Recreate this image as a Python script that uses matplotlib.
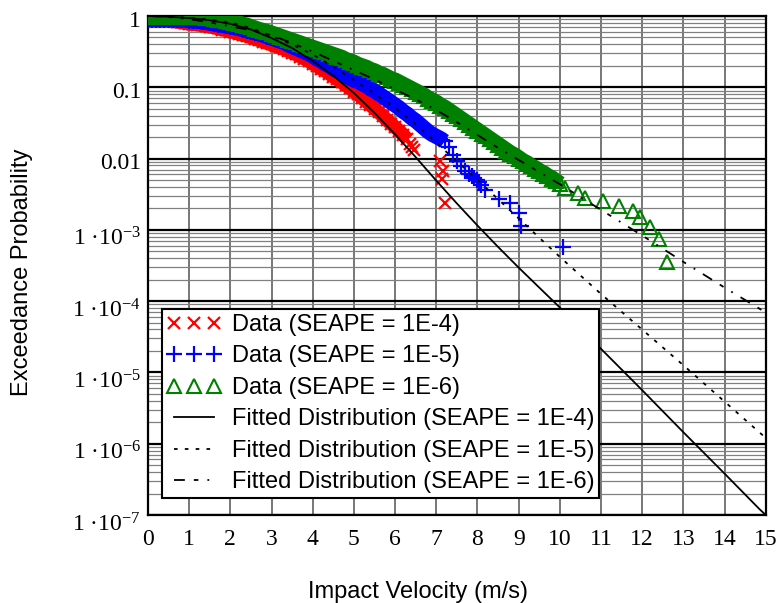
import matplotlib
matplotlib.use('Agg')
import matplotlib.pyplot as plt
import matplotlib.transforms as mtransforms
from matplotlib.ticker import LogLocator, NullFormatter
import numpy as np

plt.rcParams['font.family'] = 'Liberation Serif'
plt.rcParams['mathtext.fontset'] = 'custom'
plt.rcParams['mathtext.rm'] = 'Liberation Serif'
plt.rcParams['mathtext.it'] = 'Liberation Serif:italic'
plt.rcParams['mathtext.bf'] = 'Liberation Serif:bold'

# Data (SEAPE = 1E-4): velocity and log10 exceedance probability
red_v = [0.0, 0.1, 0.2, 0.3, 0.4, 0.5, 0.6, 0.7, 0.8, 0.9,
         1.0, 1.1, 1.2, 1.3, 1.4, 1.5, 1.6, 1.7, 1.8, 1.9,
         2.0, 2.1, 2.2, 2.3, 2.4, 2.5, 2.6, 2.7, 2.8, 2.9,
         3.0, 3.1, 3.2, 3.3, 3.4, 3.5, 3.6, 3.7, 3.8, 3.9,
         4.0, 4.1, 4.2, 4.3, 4.4, 4.5, 4.6, 4.7, 4.8, 4.9,
         5.0, 5.1, 5.2, 5.3, 5.4, 5.5, 5.6, 5.7, 5.8, 5.9,
         6.0, 6.1, 6.2, 6.3]
red_logp = [-0.06, -0.06, -0.06, -0.065, -0.065, -0.07, -0.075, -0.08, -0.09, -0.10,
            -0.11, -0.115, -0.12, -0.13, -0.14, -0.15, -0.16, -0.175, -0.19, -0.20,
            -0.22, -0.23, -0.25, -0.265, -0.28, -0.30, -0.32, -0.34, -0.36, -0.38,
            -0.40, -0.42, -0.44, -0.465, -0.49, -0.515, -0.54, -0.57, -0.60, -0.63,
            -0.67, -0.70, -0.74, -0.77, -0.81, -0.85, -0.89, -0.93, -0.97, -1.01,
            -1.06, -1.10, -1.15, -1.20, -1.25, -1.30, -1.35, -1.40, -1.46, -1.51,
            -1.56, -1.61, -1.67, -1.73]
red_tail_v = [6.36, 6.42, 6.46, 7.09, 7.17, 7.13, 7.21]
red_tail_logp = [-1.79, -1.84, -1.88, -2.03, -2.18, -2.29, -2.62]

# Data (SEAPE = 1E-5)
blue_v = [0.0, 0.1, 0.2, 0.3, 0.4, 0.5, 0.6, 0.7, 0.8, 0.9,
          1.0, 1.1, 1.2, 1.3, 1.4, 1.5, 1.6, 1.7, 1.8, 1.9,
          2.0, 2.1, 2.2, 2.3, 2.4, 2.5, 2.6, 2.7, 2.8, 2.9,
          3.0, 3.1, 3.2, 3.3, 3.4, 3.5, 3.6, 3.7, 3.8, 3.9,
          4.0, 4.1, 4.2, 4.3, 4.4, 4.5, 4.6, 4.7, 4.8, 4.9,
          5.0, 5.1, 5.2, 5.3, 5.4, 5.5, 5.6, 5.7, 5.8, 5.9,
          6.0, 6.1, 6.2, 6.3, 6.4, 6.5, 6.6, 6.7, 6.8, 6.9,
          7.0, 7.1, 7.2]
blue_logp = [-0.05, -0.05, -0.05, -0.05, -0.05, -0.05, -0.05, -0.055, -0.055, -0.06,
             -0.065, -0.07, -0.075, -0.08, -0.09, -0.10, -0.11, -0.12, -0.13, -0.14,
             -0.15, -0.16, -0.175, -0.19, -0.205, -0.22, -0.235, -0.25, -0.27, -0.29,
             -0.31, -0.33, -0.35, -0.37, -0.40, -0.43, -0.45, -0.48, -0.50, -0.53,
             -0.56, -0.60, -0.63, -0.67, -0.70, -0.74, -0.77, -0.80, -0.84, -0.87,
             -0.90, -0.92, -0.95, -0.98, -1.02, -1.05, -1.09, -1.13, -1.17, -1.21,
             -1.25, -1.29, -1.34, -1.38, -1.43, -1.47, -1.52, -1.57, -1.62, -1.66,
             -1.69, -1.72, -1.76]
blue_tail_v = [7.3, 7.4, 7.5, 7.6, 7.7, 7.8, 7.86, 7.92, 7.98, 8.04, 8.08, 8.18,
               8.52, 8.79, 9.0, 9.05, 10.08]
blue_tail_logp = [-1.84, -1.95, -2.04, -2.11, -2.17, -2.21, -2.24, -2.27, -2.30, -2.33,
                  -2.37, -2.44, -2.57, -2.63, -2.77, -2.94, -3.24]

# Data (SEAPE = 1E-6)
green_v = [0.0, 0.1, 0.2, 0.3, 0.4, 0.5, 0.6, 0.7, 0.8, 0.9,
           1.0, 1.1, 1.2, 1.3, 1.4, 1.5, 1.6, 1.7, 1.8, 1.9,
           2.0, 2.1, 2.2, 2.3, 2.4, 2.5, 2.6, 2.7, 2.8, 2.9,
           3.0, 3.1, 3.2, 3.3, 3.4, 3.5, 3.6, 3.7, 3.8, 3.9,
           4.0, 4.1, 4.2, 4.3, 4.4, 4.5, 4.6, 4.7, 4.8, 4.9,
           5.0, 5.1, 5.2, 5.3, 5.4, 5.5, 5.6, 5.7, 5.8, 5.9,
           6.0, 6.1, 6.2, 6.3, 6.4, 6.5, 6.6, 6.7, 6.8, 6.9,
           7.0, 7.1, 7.2, 7.3, 7.4, 7.5, 7.6, 7.7, 7.8, 7.9,
           8.0, 8.1, 8.2, 8.3, 8.4, 8.5, 8.6, 8.7, 8.8, 8.9,
           9.0, 9.1, 9.2, 9.3, 9.4, 9.5, 9.6, 9.7, 9.8, 9.9,
           10.0]
green_logp = [-0.01, -0.01, -0.01, -0.01, -0.01, -0.01, -0.01, -0.01, -0.01, -0.01,
              -0.01, -0.01, -0.015, -0.02, -0.025, -0.03, -0.04, -0.05, -0.06, -0.07,
              -0.08, -0.095, -0.11, -0.125, -0.14, -0.16, -0.18, -0.20, -0.215, -0.23,
              -0.25, -0.27, -0.29, -0.31, -0.33, -0.35, -0.37, -0.39, -0.41, -0.43,
              -0.45, -0.47, -0.49, -0.51, -0.53, -0.55, -0.57, -0.59, -0.62, -0.64,
              -0.66, -0.69, -0.71, -0.73, -0.76, -0.78, -0.81, -0.83, -0.86, -0.89,
              -0.91, -0.94, -0.97, -1.00, -1.03, -1.06, -1.09, -1.12, -1.16, -1.19,
              -1.22, -1.26, -1.29, -1.33, -1.37, -1.41, -1.45, -1.49, -1.53, -1.57,
              -1.61, -1.65, -1.69, -1.73, -1.77, -1.81, -1.85, -1.89, -1.93, -1.96,
              -2.00, -2.04, -2.07, -2.11, -2.14, -2.18, -2.21, -2.25, -2.28, -2.32,
              -2.36]
green_tail_v = [10.12, 10.44, 10.61, 11.05, 11.43, 11.77, 11.95, 12.19, 12.40, 12.59]
green_tail_logp = [-2.42, -2.49, -2.55, -2.60, -2.66, -2.73, -2.82, -2.96, -3.13, -3.45]

# Fitted distributions
fit4_v = [0, 0.5, 1, 1.5, 2, 2.5, 3, 3.5, 4, 4.5, 5, 5.5, 6, 6.5, 7, 7.5, 8, 8.5,
          9, 9.5, 10, 11, 12, 13, 14, 14.85, 15]
fit4_logp = [0, -0.01, -0.03, -0.06, -0.11, -0.19, -0.31, -0.45, -0.63, -0.84, -1.08,
             -1.36, -1.66, -1.98, -2.31, -2.63, -2.94, -3.24, -3.53, -3.81, -4.09,
             -4.67, -5.25, -5.84, -6.42, -6.92, -7.0]
fit5_v = [0, 0.5, 1, 1.5, 2, 2.5, 3, 3.5, 4, 4.5, 5, 5.5, 6, 6.5, 7, 7.5, 8, 8.5,
          9, 9.5, 10, 11, 12, 13, 14, 15]
fit5_logp = [0, -0.01, -0.025, -0.05, -0.09, -0.17, -0.28, -0.40, -0.54, -0.71, -0.90,
             -1.09, -1.29, -1.52, -1.78, -2.04, -2.30, -2.57, -2.84, -3.11, -3.38,
             -3.90, -4.40, -4.90, -5.41, -5.92]
fit6_v = [0, 0.5, 1, 1.5, 2, 2.5, 3, 3.5, 4, 4.5, 5, 5.5, 6, 6.5, 7, 7.5, 8, 8.5,
          9, 9.5, 10, 10.5, 11, 12, 13, 14, 15]
fit6_logp = [0, -0.015, -0.045, -0.09, -0.145, -0.2, -0.27, -0.38, -0.50, -0.63, -0.76,
             -0.89, -1.03, -1.17, -1.32, -1.49, -1.67, -1.85, -2.02, -2.19, -2.36,
             -2.54, -2.72, -3.08, -3.45, -3.81, -4.16]

y_ticks = [1, 0.1, 0.01, 1e-3, 1e-4, 1e-5, 1e-6, 1e-7]
y_labels = ['1', '0.1', '0.01', '1 ·10$^{-3}$', '1 ·10$^{-4}$', '1 ·10$^{-5}$',
            '1 ·10$^{-6}$', '1 ·10$^{-7}$']
x_ticks = list(range(0, 16))

RED, BLUE, GREEN = '#ff0000', '#0000ff', '#008000'

fig = plt.figure(figsize=(7.83, 6.03), dpi=100)
ax = fig.add_axes([0.189, 0.146, 0.789, 0.8275])

# red set: thick stroke under the dense part so the band reads solid, then the markers
ax.plot(red_v, 10 ** np.array(red_logp), color=RED, lw=10, solid_capstyle='butt',
        solid_joinstyle='round', zorder=3, label='_nolegend_')
ax.plot(red_v + red_tail_v, 10 ** np.array(red_logp + red_tail_logp), ls='none',
        marker='x', ms=9, mew=1.6, color=RED, zorder=3, label='Data (SEAPE = 1E-4)')

ax.plot(blue_v, 10 ** np.array(blue_logp), color=BLUE, lw=11, solid_capstyle='butt',
        solid_joinstyle='round', zorder=3, label='_nolegend_')
ax.plot(blue_v + blue_tail_v, 10 ** np.array(blue_logp + blue_tail_logp), ls='none',
        marker='+', ms=11, mew=1.6, color=BLUE, zorder=3, label='Data (SEAPE = 1E-5)')

ax.plot(green_v, 10 ** np.array(green_logp), color=GREEN, lw=12, solid_capstyle='butt',
        solid_joinstyle='round', zorder=3, label='_nolegend_')
ax.plot(green_v + green_tail_v, 10 ** np.array(green_logp + green_tail_logp),
        ls='none', marker='^', ms=9.5, mew=1.5, mfc='none', color=GREEN, zorder=3,
        label='Data (SEAPE = 1E-6)')

ax.plot(fit4_v, 10 ** np.array(fit4_logp), color='black', lw=1.3, zorder=4,
        label='Fitted Distribution (SEAPE = 1E-4)')
ax.plot(fit5_v, 10 ** np.array(fit5_logp), color='black', lw=1.3, dashes=(2, 4), zorder=4,
        label='Fitted Distribution (SEAPE = 1E-5)')
ax.plot(fit6_v, 10 ** np.array(fit6_logp), color='black', lw=1.3,
        dashes=(6, 5, 2.5, 5, 1, 5), zorder=4,
        label='Fitted Distribution (SEAPE = 1E-6)')

ax.set_yscale('log')
ax.set_xlim(0, 15)
ax.set_ylim(1e-7, 1)
ax.set_xticks(x_ticks)
ax.set_yticks(y_ticks, y_labels)
ax.yaxis.set_minor_locator(LogLocator(base=10, subs=range(2, 10), numticks=20))
ax.yaxis.set_minor_formatter(NullFormatter())
ax.tick_params(which='both', length=0)
ax.tick_params(axis='x', labelsize=17, pad=10)
ax.tick_params(axis='y', labelsize=17, pad=5)

# exponent labels sit lower than their grid line, as in the source
for lab in ax.get_yticklabels():
    dy = 5 if '10' in lab.get_text() else 2
    lab.set_transform(lab.get_transform() +
                      mtransforms.ScaledTranslation(0, -dy / 72, fig.dpi_scale_trans))

ax.grid(which='major', axis='y', color='black', lw=1.6, zorder=0)
ax.grid(which='minor', axis='y', color='#808080', lw=0.9, zorder=0)
ax.grid(which='major', axis='x', color='#777777', lw=1.4, zorder=0)
ax.set_axisbelow(True)
for s in ax.spines.values():
    s.set_linewidth(1.6)

fig.text(418 / 783, 1 - 592 / 603, 'Impact Velocity (m/s)', family='Liberation Sans',
         fontsize=17, ha='center', va='center')
fig.text(22 / 783, 1 - 272 / 603, 'Exceedance Probability', family='Liberation Sans',
         fontsize=17, ha='center', va='center', rotation=90)

leg = ax.legend(loc='lower left', bbox_to_anchor=(0.0227, 0.034),
                borderaxespad=0, prop={'family': 'Liberation Sans', 'size': 17},
                numpoints=3, fancybox=False, framealpha=1, edgecolor='black',
                borderpad=0.2, handlelength=2.3, handletextpad=0.45, labelspacing=0.4)
leg.get_frame().set_linewidth(1.5)
leg.set_zorder(10)

fig.savefig('out.png', dpi=100)
